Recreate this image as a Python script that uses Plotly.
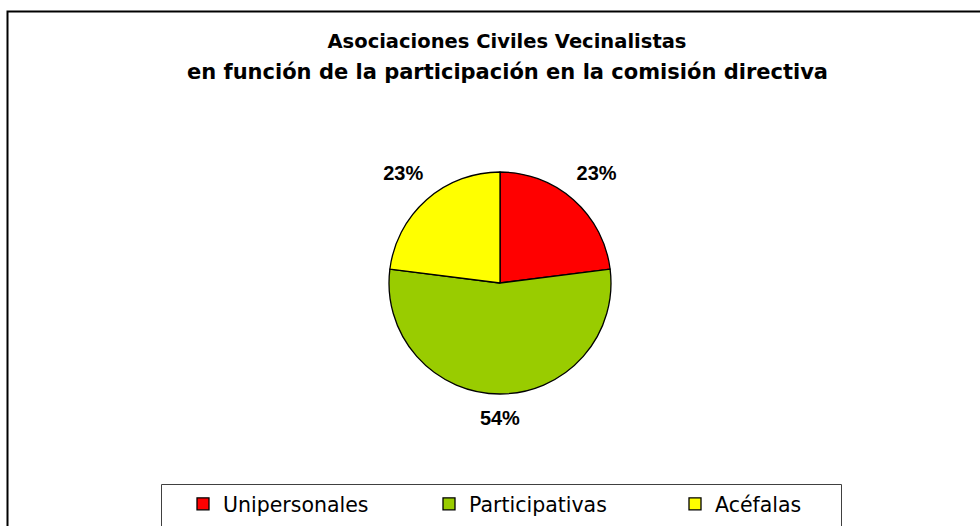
import plotly.graph_objects as go

categories = ["Unipersonales", "Participativas", "Acéfalas"]
values = [23, 54, 23]
colors = ["#FF0000", "#99CC00", "#FFFF00"]
title_line1 = "Asociaciones Civiles Vecinalistas"
title_line2 = "en función de la participación en la comisión directiva"

W, H = 980, 526
LABEL_FONT = "Liberation Sans, Arial, sans-serif"
TITLE_FONT = "DejaVu Sans, Verdana, sans-serif"

CX, CY, R = 500, 283, 111  # pie centre / radius in pixels (layout only)

fig = go.Figure()

# visible pie
fig.add_trace(go.Pie(
    labels=categories,
    values=values,
    sort=False,
    direction="clockwise",
    rotation=0,
    marker=dict(colors=colors, line=dict(color="#000000", width=1.3)),
    textposition="none",
    hoverinfo="label+percent",
    domain=dict(x=[(CX - R) / W, (CX + R) / W],
                y=[1 - (CY + R) / H, 1 - (CY - R) / H]),
))

# transparent, larger pie carrying the percentage labels
R2 = 243
fig.add_trace(go.Pie(
    labels=categories,
    values=values,
    sort=False,
    direction="clockwise",
    rotation=0,
    marker=dict(colors=["rgba(0,0,0,0)"] * len(values), line=dict(width=0)),
    textposition="inside",
    insidetextorientation="horizontal",
    texttemplate=["%{percent:.0%}", "\u00a0<br>%{percent:.0%}", "%{percent:.0%}"],
    textfont=dict(family=LABEL_FONT, size=20, color="#000000", weight="bold"),
    insidetextfont=dict(family=LABEL_FONT, size=20, color="#000000", weight="bold"),
    hoverinfo="skip",
    showlegend=False,
    domain=dict(x=[(CX - R2) / W, (CX + R2) / W],
                y=[max(0, 1 - (CY + R2) / H), 1 - (CY - R2) / H]),
))

fig.update_layout(
    width=W, height=H,
    margin=dict(l=0, r=0, t=0, b=0, autoexpand=False),
    paper_bgcolor="white",
    plot_bgcolor="white",
    title=dict(text=title_line1, x=507 / W, xanchor="center",
               y=1 - 41 / H, yanchor="middle", yref="paper",
               font=dict(family=TITLE_FONT, size=19.5, color="#000000", weight="bold")),
    annotations=[dict(text=title_line2, x=507 / W, xanchor="center",
                      y=1 - 72 / H, yanchor="middle", xref="paper", yref="paper",
                      showarrow=False,
                      font=dict(family=TITLE_FONT, size=21, color="#000000", weight="bold"))],
    showlegend=True,
    legend=dict(orientation="h", x=183 / W, xanchor="left",
                y=1 - 484 / H, yanchor="top",
                borderwidth=0, bgcolor="rgba(0,0,0,0)",
                font=dict(family=TITLE_FONT, size=20.5, color="#000000"),
                entrywidth=201, entrywidthmode="pixels"),
    shapes=[
        # outer chart frame
        dict(type="rect", xref="paper", yref="paper",
             x0=7.5 / W, x1=1.02, y0=-0.02, y1=1 - 11.5 / H,
             line=dict(color="#000000", width=2), fillcolor="rgba(0,0,0,0)",
             layer="below"),
        # legend frame
        dict(type="rect", xref="paper", yref="paper",
             x0=161.5 / W, x1=841.5 / W, y0=-0.02, y1=1 - 484.5 / H,
             line=dict(color="#404040", width=1), fillcolor="white",
             layer="below"),
    ],
)

fig.write_html("out.html", config={"displayModeBar": False},
               post_script="document.body.style.margin='0';")
